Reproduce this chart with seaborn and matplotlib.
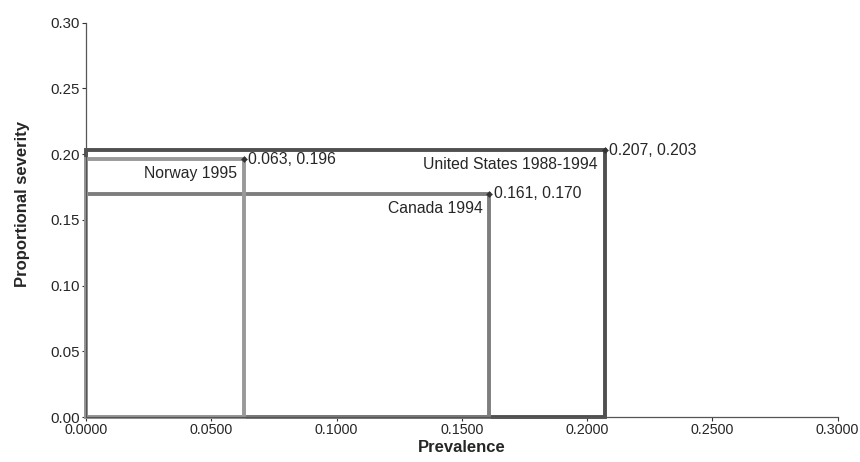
import matplotlib
matplotlib.use("Agg")
import matplotlib.pyplot as plt
import numpy as np
import pandas as pd
import seaborn as sns

# data
countries = ["United States 1988-1994", "Canada 1994", "Norway 1995"]
prevalence = [0.207, 0.161, 0.063]
severity = [0.203, 0.170, 0.196]
colors = ["#505050", "#7e7e7e", "#999999"]

x_ticks = [0.0, 0.05, 0.10, 0.15, 0.20, 0.25, 0.30]
y_ticks = [0.0, 0.05, 0.10, 0.15, 0.20, 0.25, 0.30]

sns.set_style("ticks")
plt.rcParams["font.family"] = ["Liberation Sans", "DejaVu Sans"]

fig, ax = plt.subplots(figsize=(8.6, 4.62), dpi=100)
fig.subplots_adjust(left=0.1, right=0.974, bottom=0.097, top=0.951)

# rectangle from origin to each point
for name, px, py, c in zip(countries, prevalence, severity, colors):
    rect = pd.DataFrame({"x": [0, 0, px, px, 0], "y": [0, py, py, 0, 0]})
    sns.lineplot(data=rect, x="x", y="y", sort=False, ax=ax, color=c,
                 linewidth=2.8, solid_joinstyle="miter", clip_on=False,
                 estimator=None)

pts = pd.DataFrame({"x": prevalence, "y": severity})
sns.scatterplot(data=pts, x="x", y="y", ax=ax, marker="D", s=10,
                color="#333333", edgecolor="#333333", zorder=5, clip_on=False)

for name, px, py in zip(countries, prevalence, severity):
    ax.annotate(f"{px:.3f}, {py:.3f}", (px, py), xytext=(3, 0),
                textcoords="offset points", ha="left", va="center",
                fontsize=11.3)
    ax.annotate(name, (px, py), xytext=(-5, -5), textcoords="offset points",
                ha="right", va="top", fontsize=11.3)

ax.set_xlim(0, 0.3)
ax.set_ylim(0, 0.3)
ax.set_xticks(x_ticks)
ax.set_yticks(y_ticks)
ax.set_xticklabels([f"{t:.4f}" for t in x_ticks], fontsize=10.3)
ax.set_yticklabels([f"{t:.2f}" for t in y_ticks], fontsize=10.8)
ax.set_xlabel("Prevalence", fontsize=12, fontweight="bold", labelpad=2)
ax.set_ylabel("Proportional severity", fontsize=12, fontweight="bold")
ax.yaxis.set_label_coords(-0.074, 0.54)
ax.tick_params(length=3, width=0.8, color="#333333", pad=1.5)
for s in ["left", "bottom"]:
    ax.spines[s].set_color("#555555")
    ax.spines[s].set_linewidth(0.9)
sns.despine(ax=ax)

fig.savefig("out.png", dpi=100)
